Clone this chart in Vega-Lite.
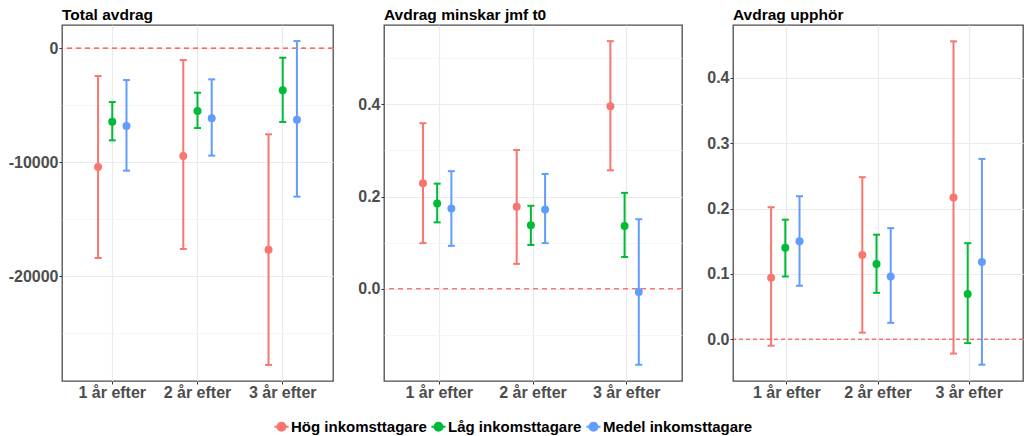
{
  "$schema": "https://vega.github.io/schema/vega-lite/v6.json",
  "autosize": {"type": "pad"},
  "padding": {"left": 7, "top": 6, "right": 0, "bottom": 0},
  "background": "white",
  "datasets": {
    "total": [
      {"period": "1 år efter", "group": "Hög inkomsttagare", "est": -10440, "lo": -18420, "hi": -2460},
      {"period": "2 år efter", "group": "Hög inkomsttagare", "est": -9470, "lo": -17630, "hi": -1050},
      {"period": "3 år efter", "group": "Hög inkomsttagare", "est": -17700, "lo": -27800, "hi": -7570},
      {"period": "1 år efter", "group": "Låg inkomsttagare", "est": -6460, "lo": -8100, "hi": -4740},
      {"period": "2 år efter", "group": "Låg inkomsttagare", "est": -5530, "lo": -7020, "hi": -3920},
      {"period": "3 år efter", "group": "Låg inkomsttagare", "est": -3710, "lo": -6490, "hi": -850},
      {"period": "1 år efter", "group": "Medel inkomsttagare", "est": -6840, "lo": -10760, "hi": -2810},
      {"period": "2 år efter", "group": "Medel inkomsttagare", "est": -6170, "lo": -9440, "hi": -2750},
      {"period": "3 år efter", "group": "Medel inkomsttagare", "est": -6290, "lo": -13040, "hi": 610}
    ],
    "minskar": [
      {"period": "1 år efter", "group": "Hög inkomsttagare", "est": 0.229, "lo": 0.099, "hi": 0.359},
      {"period": "2 år efter", "group": "Hög inkomsttagare", "est": 0.178, "lo": 0.054, "hi": 0.301},
      {"period": "3 år efter", "group": "Hög inkomsttagare", "est": 0.396, "lo": 0.257, "hi": 0.537},
      {"period": "1 år efter", "group": "Låg inkomsttagare", "est": 0.185, "lo": 0.144, "hi": 0.228},
      {"period": "2 år efter", "group": "Låg inkomsttagare", "est": 0.138, "lo": 0.095, "hi": 0.180},
      {"period": "3 år efter", "group": "Låg inkomsttagare", "est": 0.136, "lo": 0.069, "hi": 0.208},
      {"period": "1 år efter", "group": "Medel inkomsttagare", "est": 0.174, "lo": 0.093, "hi": 0.255},
      {"period": "2 år efter", "group": "Medel inkomsttagare", "est": 0.172, "lo": 0.099, "hi": 0.249},
      {"period": "3 år efter", "group": "Medel inkomsttagare", "est": -0.007, "lo": -0.165, "hi": 0.151}
    ],
    "upphor": [
      {"period": "1 år efter", "group": "Hög inkomsttagare", "est": 0.094, "lo": -0.010, "hi": 0.202},
      {"period": "2 år efter", "group": "Hög inkomsttagare", "est": 0.129, "lo": 0.010, "hi": 0.248},
      {"period": "3 år efter", "group": "Hög inkomsttagare", "est": 0.217, "lo": -0.022, "hi": 0.456},
      {"period": "1 år efter", "group": "Låg inkomsttagare", "est": 0.140, "lo": 0.096, "hi": 0.183},
      {"period": "2 år efter", "group": "Låg inkomsttagare", "est": 0.115, "lo": 0.071, "hi": 0.160},
      {"period": "3 år efter", "group": "Låg inkomsttagare", "est": 0.069, "lo": -0.006, "hi": 0.147},
      {"period": "1 år efter", "group": "Medel inkomsttagare", "est": 0.150, "lo": 0.082, "hi": 0.219},
      {"period": "2 år efter", "group": "Medel inkomsttagare", "est": 0.096, "lo": 0.025, "hi": 0.170},
      {"period": "3 år efter", "group": "Medel inkomsttagare", "est": 0.118, "lo": -0.039, "hi": 0.276}
    ],
    "zero": [{"ref": 0}]
  },
  "hconcat": [
    {
      "title": {"text": "Total avdrag"},
      "width": 271,
      "height": 356,
      "layer": [
        {
          "data": {"name": "zero"},
          "mark": {"type": "rule", "color": "#FF4040", "strokeDash": [5, 4], "strokeWidth": 1.2},
          "encoding": {
            "y": {
              "field": "ref", "type": "quantitative", "title": null,
              "scale": {"domain": [-29210, 2020], "nice": false, "zero": false},
              "axis": {
                "values": [-25000, -20000, -15000, -10000, -5000, 0],
                "labelExpr": "(datum.value == -20000 || datum.value == -10000 || datum.value == 0) ? '' + datum.value : ''",
                "tickColor": {"condition": {"test": "datum.value == -20000 || datum.value == -10000 || datum.value == 0", "value": "#333333"}, "value": "transparent"},
                "gridColor": {"condition": {"test": "datum.value == -20000 || datum.value == -10000 || datum.value == 0", "value": "#EBEBEB"}, "value": "#F3F3F3"},
                "gridWidth": {"condition": {"test": "datum.value == -20000 || datum.value == -10000 || datum.value == 0", "value": 1.2}, "value": 0.8}
              }
            }
          }
        },
        {
          "data": {"name": "total"},
          "encoding": {
            "x": {"field": "period", "type": "nominal", "title": null, "scale": {"paddingInner": 0.5, "paddingOuter": 0.34}},
            "xOffset": {"field": "group", "type": "nominal", "scale": {"paddingInner": 0, "paddingOuter": 0}},
            "color": {"field": "group", "type": "nominal", "title": null}
          },
          "layer": [
            {"mark": {"type": "rule", "strokeWidth": 2}, "encoding": {"y": {"field": "lo", "type": "quantitative", "title": null}, "y2": {"field": "hi"}}},
            {"mark": {"type": "tick", "thickness": 2, "size": 7, "opacity": 1}, "encoding": {"y": {"field": "lo", "type": "quantitative", "title": null}}},
            {"mark": {"type": "tick", "thickness": 2, "size": 7, "opacity": 1}, "encoding": {"y": {"field": "hi", "type": "quantitative", "title": null}}},
            {"mark": {"type": "point", "filled": true, "size": 64, "opacity": 1}, "encoding": {"y": {"field": "est", "type": "quantitative", "title": null}}}
          ]
        }
      ]
    },
    {
      "title": {"text": "Avdrag minskar jmf t0"},
      "width": 298,
      "height": 356,
      "layer": [
        {
          "data": {"name": "zero"},
          "mark": {"type": "rule", "color": "#FF4040", "strokeDash": [5, 4], "strokeWidth": 1.2},
          "encoding": {
            "y": {
              "field": "ref", "type": "quantitative", "title": null,
              "scale": {"domain": [-0.2, 0.572], "nice": false, "zero": false},
              "axis": {
                "values": [-0.1, 0, 0.1, 0.2, 0.3, 0.4, 0.5],
                "labelExpr": "round(abs(datum.value) * 10) % 2 == 0 ? format(datum.value, '.1f') : ''",
                "tickColor": {"condition": {"test": "round(abs(datum.value) * 10) % 2 == 0", "value": "#333333"}, "value": "transparent"},
                "gridColor": {"condition": {"test": "round(abs(datum.value) * 10) % 2 == 0", "value": "#EBEBEB"}, "value": "#F3F3F3"},
                "gridWidth": {"condition": {"test": "round(abs(datum.value) * 10) % 2 == 0", "value": 1.2}, "value": 0.8}
              }
            }
          }
        },
        {
          "data": {"name": "minskar"},
          "encoding": {
            "x": {"field": "period", "type": "nominal", "title": null, "scale": {"paddingInner": 0.5, "paddingOuter": 0.34}},
            "xOffset": {"field": "group", "type": "nominal", "scale": {"paddingInner": 0, "paddingOuter": 0}},
            "color": {"field": "group", "type": "nominal", "title": null}
          },
          "layer": [
            {"mark": {"type": "rule", "strokeWidth": 2}, "encoding": {"y": {"field": "lo", "type": "quantitative", "title": null}, "y2": {"field": "hi"}}},
            {"mark": {"type": "tick", "thickness": 2, "size": 7, "opacity": 1}, "encoding": {"y": {"field": "lo", "type": "quantitative", "title": null}}},
            {"mark": {"type": "tick", "thickness": 2, "size": 7, "opacity": 1}, "encoding": {"y": {"field": "hi", "type": "quantitative", "title": null}}},
            {"mark": {"type": "point", "filled": true, "size": 64, "opacity": 1}, "encoding": {"y": {"field": "est", "type": "quantitative", "title": null}}}
          ]
        }
      ]
    },
    {
      "title": {"text": "Avdrag upphör"},
      "width": 290,
      "height": 356,
      "layer": [
        {
          "data": {"name": "zero"},
          "mark": {"type": "rule", "color": "#FF3333", "strokeDash": [4, 3], "strokeWidth": 1},
          "encoding": {
            "y": {
              "field": "ref", "type": "quantitative", "title": null,
              "scale": {"domain": [-0.064, 0.481], "nice": false, "zero": false},
              "axis": {
                "values": [0, 0.1, 0.2, 0.3, 0.4],
                "format": ".1f"
              }
            }
          }
        },
        {
          "data": {"name": "upphor"},
          "encoding": {
            "x": {"field": "period", "type": "nominal", "title": null, "scale": {"paddingInner": 0.5, "paddingOuter": 0.34}},
            "xOffset": {"field": "group", "type": "nominal", "scale": {"paddingInner": 0, "paddingOuter": 0}},
            "color": {"field": "group", "type": "nominal", "title": null}
          },
          "layer": [
            {"mark": {"type": "rule", "strokeWidth": 2}, "encoding": {"y": {"field": "lo", "type": "quantitative", "title": null}, "y2": {"field": "hi"}}},
            {"mark": {"type": "tick", "thickness": 2, "size": 7, "opacity": 1}, "encoding": {"y": {"field": "lo", "type": "quantitative", "title": null}}},
            {"mark": {"type": "tick", "thickness": 2, "size": 7, "opacity": 1}, "encoding": {"y": {"field": "hi", "type": "quantitative", "title": null}}},
            {"mark": {"type": "point", "filled": true, "size": 64, "opacity": 1}, "encoding": {"y": {"field": "est", "type": "quantitative", "title": null}}}
          ]
        }
      ]
    }
  ],
  "spacing": 22,
  "resolve": {"scale": {"color": "shared"}},
  "config": {
    "font": "Liberation Sans",
    "view": {"stroke": "#4D4D4D", "strokeWidth": 1.3},
    "range": {"category": ["#F8766D", "#00BA38", "#619CFF"]},
    "title": {"anchor": "start", "frame": "group", "font": "Liberation Sans", "fontSize": 15.5, "fontWeight": "bold", "color": "#000000", "offset": 2},
    "axis": {
      "labelFont": "Liberation Sans", "labelFontWeight": "bold", "labelFontSize": 16, "labelColor": "#4D4D4D",
      "tickColor": "#333333", "tickSize": 3, "tickWidth": 1, "labelPadding": 1,
      "labelOverlap": false, "labelBound": false, "labelFlush": false,
      "domain": false, "grid": true, "gridColor": "#EBEBEB", "gridWidth": 1.2
    },
    "axisX": {"labelAngle": 0, "labelPadding": 0},
    "legend": {
      "orient": "none", "legendX": 211, "legendY": 393, "direction": "horizontal",
      "labelFont": "Liberation Sans", "labelFontSize": 15, "labelFontWeight": "bold", "labelColor": "#000000",
      "symbolType": "M-1,0H1M0.57,0A0.57,0.57,0,1,1,-0.57,0A0.57,0.57,0,1,1,0.57,0Z",
      "symbolSize": 200, "symbolStrokeWidth": 2, "labelOffset": 1, "columnPadding": 0, "padding": 0
    },
    "point": {"strokeWidth": 0}
  }
}
